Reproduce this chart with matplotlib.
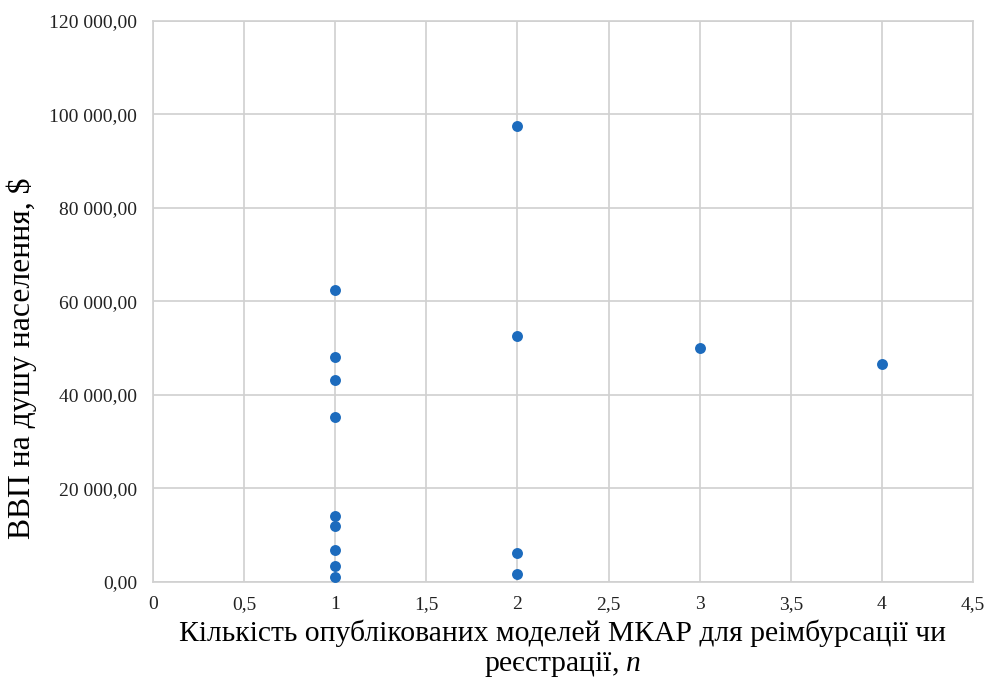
import numpy as np
import matplotlib.pyplot as plt
from matplotlib.ticker import FuncFormatter, MultipleLocator

# кількість опублікованих моделей МКАР та ВВП на душу населення
n_models = [1, 1, 1, 1, 1, 1, 1, 1, 1, 2, 2, 2, 2, 3, 4]
gdp = [62400, 48100, 43100, 35300, 14100, 12000, 6800, 3350, 1000,
       97600, 52500, 6200, 1600, 50100, 46600]

plt.rcParams['font.family'] = ['Liberation Serif', 'DejaVu Serif']
plt.rcParams['mathtext.fontset'] = 'custom'
plt.rcParams['mathtext.rm'] = 'Liberation Serif'
plt.rcParams['mathtext.it'] = 'Liberation Serif:italic'

def fmt_y(v, pos):
    s = '{:,.2f}'.format(v).replace(',', ' ').replace('.', ',')
    return s

def fmt_x(v, pos):
    if abs(v - round(v)) < 1e-9:
        return str(int(round(v)))
    return ('%g' % v).replace('.', ',')

fig = plt.figure(figsize=(9.85, 6.81), dpi=100)
ax = fig.add_axes([0.1553, 0.1458, 0.8325, 0.8234])

ax.scatter(n_models, gdp, s=62, color='#1c6bbd', zorder=3, linewidths=0)

ax.set_xlim(0, 4.5)
ax.set_ylim(0, 120000)
ax.xaxis.set_major_locator(MultipleLocator(0.5))
ax.yaxis.set_major_locator(MultipleLocator(20000))
ax.xaxis.set_major_formatter(FuncFormatter(fmt_x))
ax.yaxis.set_major_formatter(FuncFormatter(fmt_y))
ax.grid(True, color='#d0d0d0', linewidth=1.2)
ax.set_axisbelow(True)
for sp in ax.spines.values():
    sp.set_color('#d0d0d0')
    sp.set_linewidth(1.2)
ax.tick_params(length=0, labelsize=14, colors='#222222')
ax.tick_params(axis='y', pad=11.5)
ax.tick_params(axis='x', pad=10)

ax.set_ylabel('ВВП на душу населення, $', fontsize=22.8)
ax.yaxis.set_label_coords(-0.141, 0.399)
ax.set_xlabel('Кількість опублікованих моделей МКАР для реімбурсації чи\nреєстрації, $\\it{n}$',
              fontsize=21.3, labelpad=5, linespacing=1.15)

plt.savefig('out.png', dpi=100, facecolor='w')
